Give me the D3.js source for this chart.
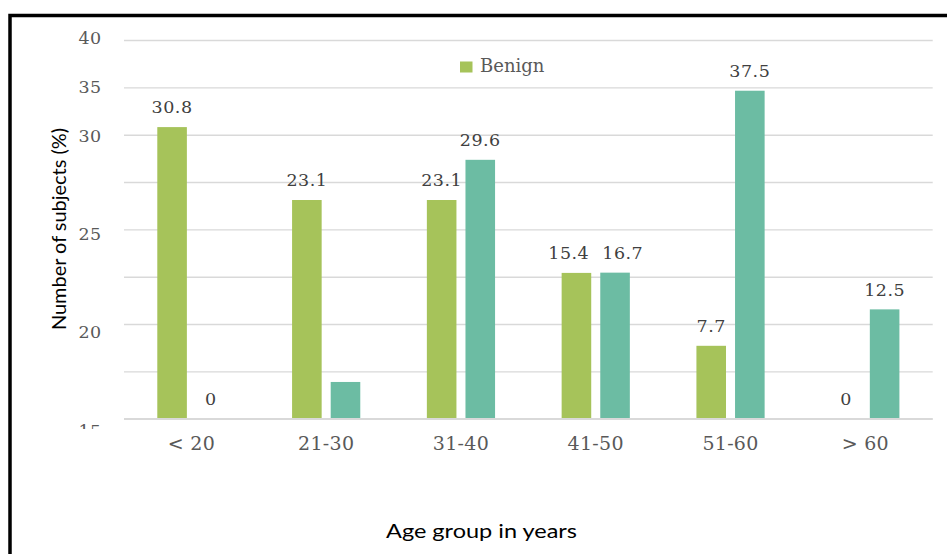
<!DOCTYPE html>
<html>
<head>
<meta charset="utf-8">
<script src="https://cdn.jsdelivr.net/npm/d3@7/dist/d3.min.js"></script>
<style>
  html, body { margin: 0; padding: 0; background: #ffffff; }
  svg { display: block; }
</style>
</head>
<body>
<svg id="chart" width="947" height="554"></svg>
<script>
// Share of subjects per age group, benign vs malignant
const categories = ["< 20", "21-30", "31-40", "41-50", "51-60", "> 60"];
const seriesNames = ["Benign", "Malignant"];
const benignValues = [30.8, 23.1, 23.1, 15.4, 7.7, 0];
const malignantValues = [0, 4.2, 29.6, 16.7, 37.5, 12.5];
const benignLabels = ["30.8", "23.1", "23.1", "15.4", "7.7", "0"];
const malignantLabels = ["0", "", "29.6", "16.7", "37.5", "12.5"];
const yTickLabels = ["40", "35", "30", "", "25", "", "20", "", "15"];
const legendItems = ["Benign"];

const colors = { Benign: "#A6C35A", Malignant: "#6CBCA3" };
const serif = "'DejaVu Serif', serif";
const sans = "Lato, 'Open Sans', sans-serif";

const svg = d3.select("#chart");
const plot = { left: 124, right: 932.7, top: 40, bottom: 418.7 };

// Outer frame (left and top rules)
svg.append("path")
  .attr("d", `M10,554 V15.5 H947`)
  .attr("fill", "none")
  .attr("stroke", "#000")
  .attr("stroke-width", 3.5);

// Horizontal grid
const gridIdx = d3.range(yTickLabels.length);
const yGrid = d3.scalePoint().domain(gridIdx).range([plot.top, plot.bottom]);
const gridAxis = svg.append("g")
  .attr("transform", `translate(${plot.left},0)`)
  .call(d3.axisLeft(yGrid).tickSize(-(plot.right - plot.left)).tickFormat(""));
gridAxis.select(".domain").remove();
gridAxis.selectAll(".tick line").attr("stroke", "#d9d9d9").attr("stroke-width", 1.4);

// Y tick labels (clipped at the category axis)
svg.append("clipPath").attr("id", "ylabClip")
  .append("rect").attr("x", 0).attr("y", 0).attr("width", plot.left).attr("height", 429);
const yLabel = d3.scalePoint().domain(gridIdx).range([37.7, 430.3]);
svg.append("g").attr("clip-path", "url(#ylabClip)")
  .selectAll("text").data(gridIdx.filter(i => yTickLabels[i] !== ""))
  .join("text")
  .attr("x", 101.7)
  .attr("y", i => yLabel(i))
  .attr("dy", "0.36em")
  .attr("text-anchor", "end")
  .attr("font-family", serif)
  .attr("font-size", 17.5)
  .attr("letter-spacing", 0.5)
  .attr("fill", "#595959")
  .text(i => yTickLabels[i]);

// Category and series scales
const x0 = d3.scaleBand().domain(categories)
  .range([plot.left, plot.right]).paddingInner(0.494).paddingOuter(0.247);
const x1 = d3.scaleBand().domain(seriesNames)
  .range([0, x0.bandwidth()]).paddingInner(0.234).paddingOuter(0);
const yScales = {
  Benign: d3.scaleLinear().domain([0, 40]).range([plot.bottom, plot.top]),
  Malignant: d3.scaleLinear().domain([0, 43.3]).range([plot.bottom, plot.top])
};

const rows = categories.map((c, i) => ({
  cat: c,
  items: [
    { s: "Benign", v: benignValues[i], label: benignLabels[i] },
    { s: "Malignant", v: malignantValues[i], label: malignantLabels[i] }
  ]
}));

// Bars
const groups = svg.append("g").selectAll("g").data(rows).join("g")
  .attr("transform", d => `translate(${x0(d.cat)},0)`);
groups.selectAll("rect").data(d => d.items.filter(it => it.v > 0)).join("rect")
  .attr("x", d => x1(d.s))
  .attr("width", x1.bandwidth())
  .attr("y", d => yScales[d.s](d.v))
  .attr("height", d => plot.bottom - yScales[d.s](d.v))
  .attr("fill", d => colors[d.s]);

// Category baseline
svg.append("line")
  .attr("x1", plot.left).attr("x2", plot.right)
  .attr("y1", plot.bottom).attr("y2", plot.bottom)
  .attr("stroke", "#d9d9d9").attr("stroke-width", 1.6);

// Value labels, nudged apart when two sit at the same height
const labelPos = [];
rows.forEach(r => {
  const pos = r.items.map(it => ({
    text: it.label,
    x: x0(r.cat) + x1(it.s) + x1.bandwidth() / 2,
    y: yScales[it.s](it.v) - 13.8
  }));
  const [a, b] = pos;
  if (a.text && b.text && Math.abs(a.y - b.y) < 16) {
    const minGap = 54;
    const gap = b.x - a.x;
    if (gap < minGap) {
      const shift = (minGap - gap) / 2;
      a.x -= shift; b.x += shift;
    }
  }
  pos.forEach(p => { if (p.text) labelPos.push(p); });
});
svg.append("g").selectAll("text").data(labelPos).join("text")
  .attr("x", d => d.x)
  .attr("y", d => d.y)
  .attr("text-anchor", "middle")
  .attr("font-family", serif)
  .attr("font-size", 17.5)
  .attr("letter-spacing", 0.5)
  .attr("fill", "#404040")
  .text(d => d.text);

// Category labels
svg.append("g").selectAll("text").data(categories).join("text")
  .attr("x", d => x0(d) + x0.bandwidth() / 2)
  .attr("y", 449.5)
  .attr("text-anchor", "middle")
  .attr("font-family", serif)
  .attr("font-size", 19)
  .attr("letter-spacing", 0.3)
  .attr("fill", "#595959")
  .text(d => d);

// Axis titles
svg.append("text")
  .attr("transform", `translate(66,229) rotate(-90)`)
  .attr("text-anchor", "middle")
  .attr("font-family", sans)
  .attr("font-size", 19.5)
  .attr("textLength", 202)
  .attr("lengthAdjust", "spacingAndGlyphs")
  .attr("fill", "#000")
  .text("Number of subjects (%)");

svg.append("text")
  .attr("x", 481.5)
  .attr("y", 538.3)
  .attr("text-anchor", "middle")
  .attr("font-family", sans)
  .attr("font-size", 18.5)
  .attr("textLength", 191)
  .attr("lengthAdjust", "spacingAndGlyphs")
  .attr("fill", "#000")
  .text("Age group in years");

// Legend
const legend = svg.append("g").selectAll("g").data(legendItems).join("g")
  .attr("transform", (d, i) => `translate(${460 + i * 110},61.5)`);
legend.append("rect")
  .attr("width", 12.5).attr("height", 11)
  .attr("fill", d => colors[d]);
legend.append("text")
  .attr("x", 20).attr("y", 10.5)
  .attr("font-family", serif)
  .attr("font-size", 18)
  .attr("fill", "#595959")
  .text(d => d);
</script>
</body>
</html>
